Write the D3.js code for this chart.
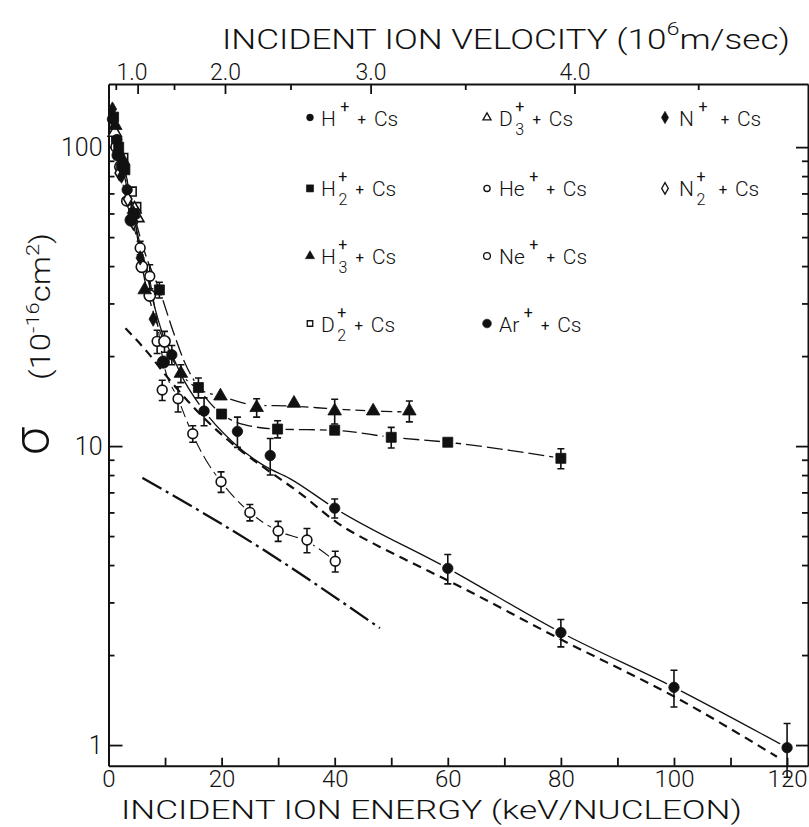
<!DOCTYPE html>
<html>
<head>
<meta charset="utf-8">
<script src="https://cdn.jsdelivr.net/npm/d3@7"></script>
<style>
  body { margin: 0; background: #fff; }
  svg { display: block; }
  text { font-family: Roboto, "DejaVu Sans", sans-serif; font-weight: 300; fill: #111; }
</style>
</head>
<body>
<svg id="chart" width="809" height="827"></svg>
<script>
// measured points: [energy keV/nucleon, sigma 1e-16 cm2, error +/-]
const hPlus  = [[0.7,124,0],[1.5,106,0],[2.3,86,0],[3.3,72,0],[11.2,20.2,1.5],[16.9,13.1,1.4],[22.8,11.2,1.3],[28.6,9.3,1.3],[40,6.2,0.45],[60,3.9,0.44],[80,2.38,0.25],[100,1.56,0.22],[120,0.98,0.2]];
const h2Plus = [[0.9,126,0],[1.8,100,0],[2.9,84,0],[4.5,60,0],[9.0,33.3,2],[15.9,15.7,1.2],[20.0,12.8,0],[29.9,11.4,0.75],[40,11.3,0],[50,10.7,0.85],[60,10.3,0],[80,9.1,0.7]];
const h3Plus = [[1.2,118,0],[2.6,90,0],[4.4,60,0],[6.4,33.3,0],[12.8,17.5,1.2],[19.8,14.7,0],[26.2,13.45,0.95],[32.8,13.9,0],[40,13.1,1.25],[46.8,13.1,0],[53.2,13.1,1.05]];
const d2Plus = [[1.4,104,0],[2.6,92,0],[4.1,71,0],[4.9,63,0]];
const d3Plus = [[1.1,112,0],[4.6,62,0],[5.1,58,0]];
const hePlus = [[1.3,100,0],[3.2,66,0],[5.6,46,2.4],[7.3,37,3.4],[8.6,22.4,2],[9.5,15.4,1.2],[12.3,14.4,1.4],[14.9,11.0,0.7],[19.9,7.6,0.6],[25,6.0,0.38],[30,5.2,0.4],[35.1,4.85,0.45],[40.1,4.12,0.33]];
const nePlus = [[2.1,86,0],[5.9,39.8,0],[7.3,31.9,0],[9.9,22.4,1.8]];
const arPlus = [[1.7,94,0],[4.0,57,0],[9.7,19.1,0]];
const nPlus  = [[0.7,134,0],[2.3,80,0],[5.6,42.6,0],[7.9,26.6,0]];
const n2Plus = [[1.9,82,0],[3.4,67,0],[4.4,56,0]];

// drawn curves: [energy, sigma]
const hFit  = [[0.7,128],[1.8,100],[3.2,74],[4.5,58],[6.2,42],[8.2,29],[10,22.5],[11.2,20.2],[13.5,16.4],[16.4,13.5],[22,10.3],[27.5,8.6],[32,7.8],[40,6.2],[60,3.9],[80,2.38],[100,1.56],[120,0.98]];
const h2Fit = [[1.0,125],[2.9,84],[4.5,60],[6.5,44],[9.0,33.3],[11.5,24],[13.5,19],[15.9,15.7],[20,12.8],[24,11.8],[29.9,11.4],[40,11.3],[50,10.7],[60,10.3],[80,9.1]];
const h3Fit = [[1.2,118],[2.6,90],[4.4,60],[6.4,36],[8.5,26],[10.5,21],[12.8,17.5],[16,15.5],[19.8,14.7],[26.2,13.7],[32.8,13.6],[40,13.3],[46.8,13.1],[53.2,13.0]];
const heFit = [[1.3,100],[3.2,66],[5.6,46],[7.3,36],[8.6,26],[9.7,19.1],[12.3,14.4],[14.9,10.9],[17.2,9.0],[19.9,7.6],[25,6.0],[30,5.2],[35.1,4.8],[40.1,4.12]];
const theory  = [[3.0,24.8],[6.8,20.7],[10.3,17.1],[14.4,13.9],[18.5,11.6],[23.3,9.7],[27.4,8.5],[33.9,6.95],[40.4,5.55],[48,4.6],[53.9,4.05],[61.6,3.43],[80.3,2.24],[100.1,1.45],[118.2,0.914]];
const dashDot = [[6.0,7.83],[27,4.55],[48,2.46]];

// axis ticks and labels
const energyTicks = [0,10,20,30,40,50,60,70,80,90,100,110,120];
const velocityTicks = [0.5,1,1.5,2,2.5,3,3.5,4,4.5];
const sigmaMajor = [1,10,100];
const ionBase = ['H','H','H','D','D','He','Ne','Ar','N','N'];
const ionSub  = ['','2','3','2','3','','','','','2'];
const keVperV2 = 5.15; // keV/nucleon per (1e6 m/s)^2

const svg = d3.select('#chart');
const x = d3.scaleLinear().domain([0, 123.7]).range([108.5, 808]);
const y = d3.scaleLog().domain([0.853, 162.6]).range([765.7, 84]);
const v = d3.scalePow().exponent(2).domain([0, Math.sqrt(123.7 / keVperV2)]).range(x.range());
const X0 = x.range()[0], X1 = x.range()[1], Y0 = y.range()[0], Y1 = y.range()[1];
const ink = '#111';

const sigmaMinor = [];
[1, 10, 100].forEach(p => d3.range(2, 10).forEach(m => {
  if (m * p <= y.domain()[1]) sigmaMinor.push(m * p);
}));
const sigmaTicks = sigmaMajor.concat(sigmaMinor);

function styleAxis(g) {
  g.attr('font-family', null).attr('font-size', null);
  g.select('.domain').attr('stroke', ink).attr('stroke-width', 2);
  g.selectAll('.tick line').attr('stroke', ink).attr('stroke-width', 1.8);
  g.selectAll('.tick text').style('font-size', '25px').attr('fill', ink);
}

// bottom axis
const bottomAxis = svg.append('g')
  .attr('transform', `translate(0,${Y0})`)
  .call(d3.axisBottom(x).tickValues(energyTicks).tickSizeInner(-8).tickSizeOuter(0).tickPadding(4)
    .tickFormat(d => d % 20 === 0 ? d : ''))
  .call(styleAxis);
bottomAxis.selectAll('.tick text').style('font-size', '24px');

// top axis (velocity)
const topAxis = svg.append('g')
  .attr('transform', `translate(0,${Y1})`)
  .call(d3.axisTop(v).tickValues(velocityTicks).tickSizeInner(-6).tickSizeOuter(0).tickPadding(4)
    .tickFormat(d => d % 1 === 0 ? d.toFixed(1) : ''))
  .call(styleAxis);
topAxis.selectAll('.tick line').attr('y2', d => d % 1 === 0 ? 10 : 6);
topAxis.selectAll('.tick text').style('font-size', '23px')
  .attr('dx', d => d === 1 ? -6 : 0);

// left axis
const leftAxis = svg.append('g')
  .attr('transform', `translate(${X0},0)`)
  .call(d3.axisLeft(y).tickValues(sigmaTicks).tickSizeInner(-6).tickSizeOuter(0).tickPadding(6)
    .tickFormat(d => sigmaMajor.includes(d) ? d : ''))
  .call(styleAxis);
leftAxis.selectAll('.tick line').attr('x2', d => sigmaMajor.includes(d) ? 14 : 6);

// right axis
const rightAxis = svg.append('g')
  .attr('transform', `translate(${X1},0)`)
  .call(d3.axisRight(y).tickValues(sigmaTicks).tickSizeInner(-6).tickSizeOuter(0).tickFormat(''))
  .call(styleAxis);
rightAxis.selectAll('.tick line').attr('x2', d => sigmaMajor.includes(d) ? -12 : -6);

// axis titles
svg.append('text')
  .attr('x', 222).attr('y', 49)
  .attr('textLength', 568).attr('lengthAdjust', 'spacingAndGlyphs')
  .style('font-size', '27px')
  .call(t => {
    t.append('tspan').text('INCIDENT ION VELOCITY (10');
    t.append('tspan').attr('dy', -14).style('font-size', '18px').text('6');
    t.append('tspan').attr('dy', 14).text('m/sec)');
  });

svg.append('text')
  .attr('x', 121).attr('y', 819)
  .attr('textLength', 621).attr('lengthAdjust', 'spacingAndGlyphs')
  .style('font-size', '26px')
  .text('INCIDENT ION ENERGY  (keV/NUCLEON)');

svg.append('text')
  .attr('transform', 'translate(49,441) rotate(-90)')
  .attr('text-anchor', 'middle')
  .style('font-size', '50px')
  .text('σ');

svg.append('text')
  .attr('transform', 'translate(50,380) rotate(-90)')
  .attr('textLength', 147).attr('lengthAdjust', 'spacingAndGlyphs')
  .style('font-size', '27px')
  .call(t => {
    t.append('tspan').text('(10');
    t.append('tspan').attr('dy', -11).style('font-size', '18px').text('-16');
    t.append('tspan').attr('dy', 11).text('cm');
    t.append('tspan').attr('dy', -11).style('font-size', '18px').text('2');
    t.append('tspan').attr('dy', 11).text(')');
  });

// curves
const line = d3.line()
  .x(d => x(d[0]))
  .y(d => y(d[1]))
  .curve(d3.curveMonotoneX);

const defs = svg.append('defs');
const fits = [
  {pts: hFit, own: hPlus, dash: null, w: 1.3},
  {pts: h2Fit, own: h2Plus, dash: '16,5', w: 1.3},
  {pts: h3Fit, own: h3Plus, dash: '16,5', w: 1.3},
  {pts: heFit, own: hePlus, dash: '14,5', w: 1.1}
];
fits.forEach((f, i) => {
  const m = defs.append('mask').attr('id', 'gap' + i).attr('maskUnits', 'userSpaceOnUse');
  m.append('rect').attr('width', 809).attr('height', 827).attr('fill', '#fff');
  m.selectAll('circle').data(f.own.filter(d => d[0] > 12)).join('circle')
    .attr('cx', d => x(d[0])).attr('cy', d => y(d[1])).attr('r', 8).attr('fill', '#000');
  svg.append('path')
    .attr('d', line(f.pts))
    .attr('mask', `url(#gap${i})`)
    .attr('fill', 'none').attr('stroke', ink)
    .attr('stroke-width', f.w)
    .attr('stroke-dasharray', f.dash);
});

svg.append('path')
  .attr('d', line(theory))
  .attr('fill', 'none').attr('stroke', ink)
  .attr('stroke-width', 2.2).attr('stroke-dasharray', '9,6');

svg.append('path')
  .attr('d', line(dashDot))
  .attr('fill', 'none').attr('stroke', ink)
  .attr('stroke-width', 2.3).attr('stroke-dasharray', '22,5,3,5');

// markers
const series = [
  {data: d2Plus, type: d3.symbolSquare, size: 80, fill: false, legend: 30},
  {data: d3Plus, type: d3.symbolTriangle, size: 75, fill: false, legend: 28},
  {data: hePlus, type: d3.symbolCircle, size: 75, fill: false, legend: 30},
  {data: nePlus, type: d3.symbolCircle, size: 100, fill: false, legend: 36},
  {data: n2Plus, type: d3.symbolDiamond, size: 60, fill: false, legend: 38},
  {data: hPlus, type: d3.symbolCircle, size: 85, fill: true, legend: 36},
  {data: h2Plus, type: d3.symbolSquare, size: 100, fill: true, legend: 50},
  {data: h3Plus, type: d3.symbolTriangle, size: 80, fill: true, legend: 36},
  {data: arPlus, type: d3.symbolCircle, size: 120, fill: true, legend: 60},
  {data: nPlus, type: d3.symbolDiamond, size: 60, fill: true, legend: 44}
];
const legendOrder = [hPlus, h2Plus, h3Plus, d2Plus, d3Plus, hePlus, nePlus, arPlus, nPlus, n2Plus];

series.forEach(s => {
  const g = svg.append('g');
  const withErr = s.data.filter(d => d[2] > 0);
  g.selectAll('path.err').data(withErr).join('path')
    .attr('class', 'err')
    .attr('d', d => {
      const cx = x(d[0]), yt = y(d[1] + d[2]), yb = y(d[1] - d[2]);
      return `M${cx},${yt}V${yb}M${cx - 3.5},${yt}H${cx + 3.5}M${cx - 3.5},${yb}H${cx + 3.5}`;
    })
    .attr('fill', 'none').attr('stroke', ink).attr('stroke-width', 1.6);
  g.selectAll('path.pt').data(s.data).join('path')
    .attr('class', 'pt')
    .attr('transform', d => `translate(${x(d[0])},${y(d[1])})`)
    .attr('d', d3.symbol().type(s.type).size(s.size))
    .attr('fill', s.fill ? ink : '#fff')
    .attr('stroke', ink).attr('stroke-width', s.fill ? 0.8 : 1.6);
});

// legend
const colSym = [310, 487, 665], colText = [321, 499, 679];
const rowBase = [125.5, 196.4, 264, 331.5];
const legend = svg.append('g');
legendOrder.forEach((data, i) => {
  const s = series.find(e => e.data === data);
  const col = i < 4 ? 0 : (i < 8 ? 1 : 2);
  const row = i < 4 ? i : (i < 8 ? i - 4 : i - 8);
  const yb = rowBase[row];
  legend.append('path')
    .attr('transform', `translate(${colSym[col]},${yb - 8})`)
    .attr('d', d3.symbol().type(s.type).size(s.legend))
    .attr('fill', s.fill ? ink : '#fff')
    .attr('stroke', ink).attr('stroke-width', s.fill ? 0.6 : 1.3);
  const base = legend.append('text')
    .attr('x', colText[col]).attr('y', yb)
    .style('font-size', '21px')
    .text(ionBase[i]);
  const baseEnd = colText[col] + base.node().getComputedTextLength();
  const supX = baseEnd + (ionSub[i] ? 7 : 9);
  legend.append('text').attr('x', supX).attr('y', yb - 14)
    .attr('text-anchor', 'middle').style('font-size', '16px').style('font-weight', 400).text('+');
  if (ionSub[i]) {
    legend.append('text').attr('x', supX).attr('y', yb + 9)
      .attr('text-anchor', 'middle').style('font-size', '16px').text(ionSub[i]);
  }
  const midX = supX + (col === 2 ? 22 : 17);
  legend.append('text').attr('x', midX).attr('y', yb - 1)
    .attr('text-anchor', 'middle').style('font-size', '15px').style('font-weight', 400).text('+');
  legend.append('text').attr('x', midX + 12).attr('y', yb)
    .style('font-size', '21px').text('Cs');
});
</script>
</body>
</html>
